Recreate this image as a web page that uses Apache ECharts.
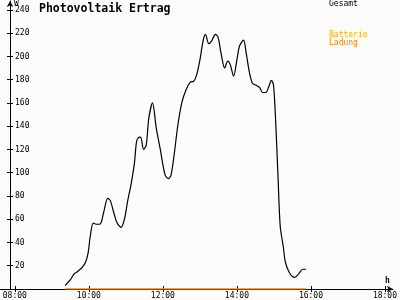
<!DOCTYPE html>
<html>
<head>
<meta charset="utf-8">
<script src="https://cdn.jsdelivr.net/npm/echarts@6/dist/echarts.min.js"></script>
<style>
html,body{margin:0;padding:0;background:#fcfcfc;}
#c{width:400px;height:300px;}
</style>
</head>
<body>
<div id="c"></div>
<script>
// Time in hours of day
var times = [9.36,9.5,9.6,9.67,9.72,9.82,9.91,9.98,10.04,10.12,10.2,10.31,10.4,10.51,10.58,10.67,10.76,10.87,10.96,11.05,11.14,11.23,11.29,11.36,11.41,11.48,11.55,11.62,11.72,11.82,11.93,12.06,12.15,12.22,12.31,12.4,12.51,12.62,12.74,12.83,12.91,13.0,13.09,13.15,13.24,13.31,13.42,13.49,13.57,13.67,13.75,13.82,13.91,14.0,14.07,14.18,14.25,14.34,14.42,14.53,14.62,14.69,14.78,14.86,14.93,14.99,15.05,15.11,15.17,15.25,15.31,15.42,15.56,15.67,15.78,15.87];
// Gesamt (W)
var gesamt = [3,8,13,14.5,15.7,18.6,23,31,46,56.6,55.7,56,66,78,76,66,57,53,60,76,90,108,127,130.6,130,120,124,147,160,138.6,120,98,95,98,117,140,160,171,178,178.6,184,197,214,219,211,213,219,216.6,203,190,196,193,183,197,209,214,203,186,177,175,173,169,169,174,179.4,175,142,97,54,37,23,14,10,13,17,17];
// Batterie Ladung (W)
var ladung = [0,0,0,0,0,0,0,0,0,0,0,0,0,0,0,0,0,0,0,0,0,0,0,0,0,0,0,0,0,0,0,0,0,0,0,0,0,0,0,0,0,0,0,0,0,0,0,0,0,0,0,0,0,0,0,0,0,0,0,0,0,0,0,0,0,0,0,0,0,0,0,0,0,0,0,0];
var xTicks = [8,10,12,14,16,18];
var xTickLabels = ['08:00','10:00','12:00','14:00','16:00','18:00'];
var yTicks = [20,40,60,80,100,120,140,160,180,200,220,240];

var FONT = 'DejaVu Sans Mono';
function pairs(xs, ys){ return xs.map(function(x,i){ return [x, ys[i]]; }); }

var chart = echarts.init(document.getElementById('c'), null, {renderer:'canvas'});
var xBase = {
  type:'value', min:7.6, max:18.213, gridIndex:0, position:'bottom',
  splitLine:{show:false}
};
var yBase = {
  type:'value', min:0, max:247.7, offset:-10, position:'left',
  splitLine:{show:false}
};
chart.setOption({
  backgroundColor:'#fcfcfc',
  animation:false,
  title:{text:'Photovoltaik Ertrag', left:39, top:3, padding:0,
    textStyle:{fontFamily:FONT, fontSize:11.5, fontWeight:'bold', color:'#000'}},
  grid:{left:0, right:2, top:1, bottom:10, containLabel:false},
  xAxis:[
    Object.assign({}, xBase, {
      axisLine:{onZero:false, symbol:['none','arrow'], symbolSize:[5,6], lineStyle:{color:'#000', width:1}},
      axisTick:{show:true, inside:false, length:3, customValues:xTicks, lineStyle:{color:'#000'}},
      axisLabel:{show:true, margin:3, customValues:xTicks, fontFamily:FONT, fontSize:8, color:'#000',
        formatter:function(v){ var i = xTicks.indexOf(v); return i>=0 ? xTickLabels[i] : ''; }}
    }),
    Object.assign({}, xBase, {
      axisLine:{show:false, onZero:false},
      axisTick:{show:true, inside:true, length:3, customValues:xTicks, lineStyle:{color:'#000'}},
      axisLabel:{show:false}
    })
  ],
  yAxis:[
    Object.assign({}, yBase, {
      axisLine:{show:true, onZero:false, symbol:['none','arrow'], symbolSize:[5,6], lineStyle:{color:'#000', width:1}},
      axisTick:{show:true, inside:true, length:3, customValues:yTicks, lineStyle:{color:'#000'}},
      axisLabel:{show:true, inside:true, margin:5, customValues:yTicks, fontFamily:FONT, fontSize:8, color:'#000'}
    }),
    Object.assign({}, yBase, {
      axisLine:{show:false, onZero:false},
      axisTick:{show:true, inside:false, length:3, customValues:yTicks, lineStyle:{color:'#000'}},
      axisLabel:{show:false}
    })
  ],
  graphic:[
    {type:'text', left:14, top:0, style:{text:'W', font:'8px "DejaVu Sans Mono"', fill:'#000'}},
    {type:'text', left:385, top:277, style:{text:'h', font:'bold 8px "DejaVu Sans Mono"', fill:'#000'}},
    {type:'text', left:329, top:0, style:{text:'Gesamt', font:'8px "DejaVu Sans Mono"', fill:'#000'}},
    {type:'text', left:329, top:31, style:{text:'Batterie', font:'8px "DejaVu Sans Mono"', fill:'#ffaa00'}},
    {type:'text', left:329, top:39, style:{text:'Ladung', font:'8px "DejaVu Sans Mono"', fill:'#ff8000'}}
  ],
  series:[
    {name:'Gesamt', type:'line', xAxisIndex:0, yAxisIndex:0, data:pairs(times,gesamt), showSymbol:false,
      smooth:0.3, lineStyle:{color:'#000', width:1.2}, silent:true},
    {name:'Batterie Ladung', type:'line', xAxisIndex:0, yAxisIndex:0, data:pairs(times,ladung), showSymbol:false,
      lineStyle:{color:'#ff8000', width:1.5}, silent:true, z:3}
  ]
});
</script>
</body>
</html>
